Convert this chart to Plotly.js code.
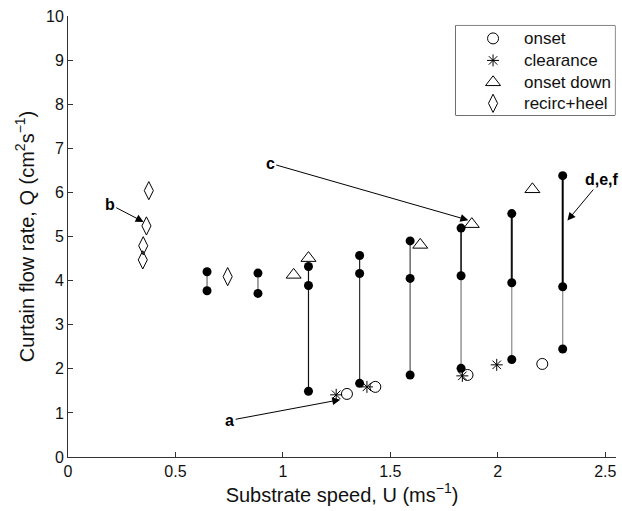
<!DOCTYPE html>
<html>
<head>
<meta charset="utf-8">
<script src="https://cdn.plot.ly/plotly-3.0.1.min.js"></script>
<style>html,body{margin:0;padding:0;background:#fff;}#chart{width:622px;height:511px;}</style>
</head>
<body>
<div id="chart"></div>
<script>
// Measured columns (filled dots joined by vertical lines)
const colU    = [0.647, 0.884, 1.119, 1.357, 1.592, 1.829, 2.065, 2.302];
const colQtop = [4.20, 4.17, 4.32, 4.57, 4.90, 5.19, 5.52, 6.38];
const colQmid = [null, null, 3.89, 4.16, 4.05, 4.11, 3.95, 3.86];
const colQbot = [3.77, 3.71, 1.49, 1.67, 1.86, 2.01, 2.21, 2.45];

// Legend series
const seriesNames = ['onset', 'clearance', 'onset down', 'recirc+heel'];
const onsetU = [1.298, 1.430, 1.859, 2.207];
const onsetQ = [1.43, 1.59, 1.86, 2.11];
const clearU = [1.248, 1.391, 1.835, 1.995];
const clearQ = [1.41, 1.59, 1.84, 2.09];
const downU  = [1.050, 1.119, 1.639, 1.879, 2.161];
const downQ  = [4.13, 4.51, 4.81, 5.28, 6.07];
const recU   = [0.376, 0.365, 0.350, 0.348, 0.743];
const recQ   = [6.04, 5.24, 4.79, 4.47, 4.09];

// Annotation labels: [text, labelU, labelQ, headU, headQ]
const notes = [
  ['a', 0.752, 0.83, 1.267, 1.30],
  ['b', 0.194, 5.73, 0.352, 5.33],
  ['c', 0.941, 6.66, 1.863, 5.37],
  ['d,e,f', 2.483, 6.29, 2.324, 5.36]
];

const xTicks = [0, 0.5, 1, 1.5, 2, 2.5];
const xTickText = ['0', '0.5', '1', '1.5', '2', '2.5'];
const yTicks = [0, 1, 2, 3, 4, 5, 6, 7, 8, 9, 10];

const FONT = 'Liberation Sans, Arial, sans-serif';
const upperStyle = [
  {c:'#666', w:1.2}, {c:'#666', w:1.2}, {c:'#111', w:1.2}, {c:'#222', w:1.2},
  {c:'#444', w:1.2}, {c:'#111', w:1.6}, {c:'#111', w:2}, {c:'#000', w:2}
];
const lowerStyle = [
  null, null, {c:'#111', w:1.2}, {c:'#333', w:1.2},
  {c:'#555', w:1.2}, {c:'#777', w:1.2}, {c:'#888', w:1.2}, {c:'#888', w:1.2}
];
const markerStyles = [
  {symbol:'circle-open', size:11, color:'#000', line:{width:1, color:'#000'}},
  {symbol:'asterisk-open', size:10, color:'#000', line:{width:1, color:'#000'}},
  {symbol:'triangle-up-open', size:13, color:'#000', line:{width:1, color:'#000'}},
  {symbol:'diamond-tall-open', size:13, color:'#000', line:{width:1, color:'#000'}}
];

const traces = [];
colU.forEach((u, i) => {
  if (colQmid[i] === null) {
    traces.push({x:[u,u], y:[colQtop[i], colQbot[i]], mode:'lines', showlegend:false, hoverinfo:'skip',
      line:{color:upperStyle[i].c, width:upperStyle[i].w}});
  } else {
    traces.push({x:[u,u], y:[colQtop[i], colQmid[i]], mode:'lines', showlegend:false, hoverinfo:'skip',
      line:{color:upperStyle[i].c, width:upperStyle[i].w}});
    traces.push({x:[u,u], y:[colQmid[i], colQbot[i]], mode:'lines', showlegend:false, hoverinfo:'skip',
      line:{color:lowerStyle[i].c, width:lowerStyle[i].w}});
  }
});
const dotU = [], dotQ = [];
colU.forEach((u, i) => {
  [colQtop[i], colQmid[i], colQbot[i]].forEach(q => { if (q !== null) { dotU.push(u); dotQ.push(q); } });
});
traces.push({x:dotU, y:dotQ, mode:'markers', showlegend:false,
  marker:{symbol:'circle', size:9, color:'#000'}});

const seriesU = [onsetU, clearU, downU, recU];
const seriesQ = [onsetQ, clearQ, downQ, recQ];
seriesNames.forEach((name, k) => {
  traces.push({x:seriesU[k], y:seriesQ[k], mode:'markers', name:name, showlegend:false,
    marker:markerStyles[k]});
});

// Legend drawn in its own small axes so its box and row spacing match the figure
const legRowY = [0.856, 0.611, 0.367, 0.133];
seriesNames.forEach((name, k) => {
  traces.push({x:[0.234], y:[legRowY[k]], xaxis:'x2', yaxis:'y2', mode:'markers',
    showlegend:false, hoverinfo:'skip', marker:markerStyles[k]});
});

const annotations = notes.map(n => ({
  text: '<b>' + n[0] + '</b>', x: n[3], y: n[4], ax: n[1], ay: n[2],
  xref:'x', yref:'y', axref:'x', ayref:'y', showarrow:true,
  arrowhead:2, arrowsize:1.6, arrowwidth:1, arrowcolor:'#000', standoff:0, startstandoff:0,
  font:{family:FONT, size:16, color:'#000'}
}));
seriesNames.forEach((name, k) => {
  annotations.push({text:name, x:0.416, y:legRowY[k], xref:'x2', yref:'y2', xanchor:'left', yanchor:'middle',
    showarrow:false, font:{family:FONT, size:17, color:'#111'}});
});

const legX0 = 0.7077, legX1 = 0.998, legY0 = 0.7749, legY1 = 0.9785;

const layout = {
  width:622, height:511,
  margin:{l:67.5, r:6, t:15.5, b:53.5},
  paper_bgcolor:'#fff', plot_bgcolor:'#fff',
  font:{family:FONT, size:16, color:'#000'},
  xaxis:{
    range:[0, 2.55], tickvals:xTicks, ticktext:xTickText,
    showgrid:false, zeroline:false, showline:true, linecolor:'#333', linewidth:1,
    ticks:'inside', ticklen:5, tickcolor:'#333',
    tickfont:{family:FONT, size:16, color:'#111'},
    title:{text:'Substrate speed, U (ms<sup>−1</sup>)', font:{family:FONT, size:20, color:'#111'}, standoff:4}
  },
  yaxis:{
    range:[0, 10], tickvals:yTicks,
    showgrid:false, zeroline:false, showline:true, linecolor:'#333', linewidth:1,
    ticks:'inside', ticklen:5, tickcolor:'#333',
    tickfont:{family:FONT, size:16, color:'#111'},
    title:{text:'Curtain flow rate, Q (cm<sup>2</sup>s<sup>−1</sup>)', font:{family:FONT, size:20, color:'#111'}, standoff:6}
  },
  xaxis2:{domain:[legX0, legX1], range:[0,1], anchor:'y2', visible:false, fixedrange:true},
  yaxis2:{domain:[legY0, legY1], range:[0,1], anchor:'x2', visible:false, fixedrange:true},
  shapes:[
    {type:'rect', xref:'paper', yref:'paper', x0:legX0, x1:legX1, y0:legY0, y1:legY1,
     fillcolor:'#fff', line:{color:'#000', width:1}, layer:'below'}
  ],
  annotations: annotations,
  showlegend:false
};

Plotly.newPlot('chart', traces, layout, {staticPlot:true, displayModeBar:false});
</script>
</body>
</html>
